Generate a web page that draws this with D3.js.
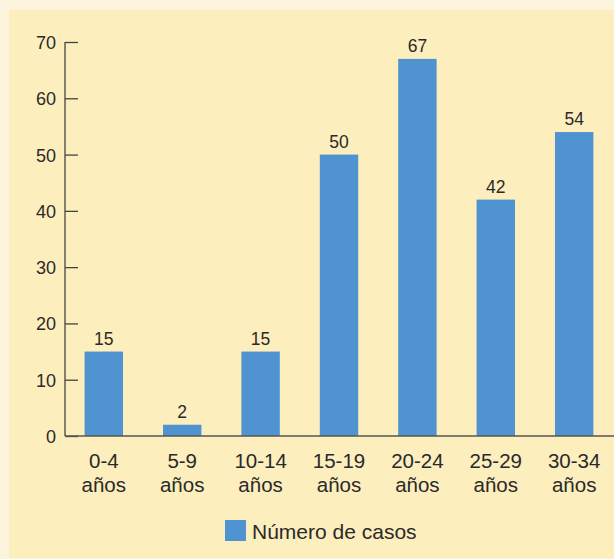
<!DOCTYPE html>
<html lang="es">
<head>
<meta charset="UTF-8">
<title>Número de casos por edad</title>
<script src="https://d3js.org/d3.v7.min.js"></script>
<style>
  body { margin: 0; background: #fdf4de; }
  svg { display: block; font-family: "Liberation Sans", Arial, sans-serif; }
</style>
</head>
<body>
<svg id="chart" width="614" height="559"></svg>
<script>
// Data
const categories = ["0-4 años", "5-9 años", "10-14 años", "15-19 años", "20-24 años", "25-29 años", "30-34 años"];
const values = [15, 2, 15, 50, 67, 42, 54];
const yTicks = [0, 10, 20, 30, 40, 50, 60, 70];
const seriesName = "Número de casos";

const svg = d3.select("#chart");
const barColor = "#5093d1";
const textColor = "#2a2a2a";
const font = "'Liberation Sans', Arial, sans-serif";

// panel background
svg.append("rect")
  .attr("x", 9).attr("y", 10)
  .attr("width", 605).attr("height", 548)
  .attr("fill", "#fdeebd");

const x0 = 65, xEnd = 614;
const x = d3.scaleBand()
  .domain(categories)
  .range([65, 613])
  .paddingInner(0.51)
  .paddingOuter(0.25);

const y = d3.scaleLinear()
  .domain([0, 70])
  .range([436, 42]);

// bars
svg.selectAll("rect.bar")
  .data(values)
  .join("rect")
  .attr("class", "bar")
  .attr("x", (d, i) => x(categories[i]))
  .attr("y", d => y(d))
  .attr("width", x.bandwidth())
  .attr("height", d => y(0) - y(d))
  .attr("fill", barColor);

// value labels
svg.selectAll("text.val")
  .data(values)
  .join("text")
  .attr("class", "val")
  .attr("x", (d, i) => x(categories[i]) + x.bandwidth() / 2)
  .attr("y", d => y(d) - 7)
  .attr("text-anchor", "middle")
  .attr("font-size", 17.5)
  .attr("fill", textColor)
  .text(d => d);

// y axis
const yAxis = svg.append("g")
  .attr("transform", `translate(${x0},0)`)
  .call(d3.axisRight(y).tickValues(yTicks).tickSize(13).tickFormat(d3.format("d")));
yAxis.attr("font-family", font).attr("font-size", 18);
yAxis.select(".domain").remove();
yAxis.selectAll(".tick line").attr("stroke", "#444").attr("stroke-width", 1.3);
yAxis.selectAll(".tick text")
  .attr("x", -9)
  .attr("dy", "0.36em")
  .attr("text-anchor", "end")
  .attr("fill", textColor);

svg.append("line")
  .attr("x1", x0).attr("x2", x0)
  .attr("y1", y(70)).attr("y2", y(0))
  .attr("stroke", "#444").attr("stroke-width", 1.3);

// x axis
svg.append("line")
  .attr("x1", x0).attr("x2", xEnd)
  .attr("y1", y(0)).attr("y2", y(0))
  .attr("stroke", "#555").attr("stroke-width", 1.5);

const xLabels = svg.selectAll("text.cat")
  .data(categories)
  .join("text")
  .attr("class", "cat")
  .attr("text-anchor", "middle")
  .attr("font-size", 20.5)
  .attr("fill", textColor);
xLabels.each(function(d) {
  const parts = d.split(" ");
  const cx = x(d) + x.bandwidth() / 2;
  d3.select(this).selectAll("tspan")
    .data(parts)
    .join("tspan")
    .attr("x", cx)
    .attr("y", (p, j) => 468 + j * 24)
    .text(p => p);
});

// legend
svg.append("rect")
  .attr("x", 225).attr("y", 520)
  .attr("width", 21).attr("height", 21)
  .attr("fill", barColor);
svg.append("text")
  .attr("x", 252).attr("y", 539)
  .attr("font-size", 21)
  .attr("fill", textColor)
  .text(seriesName);
</script>
</body>
</html>
